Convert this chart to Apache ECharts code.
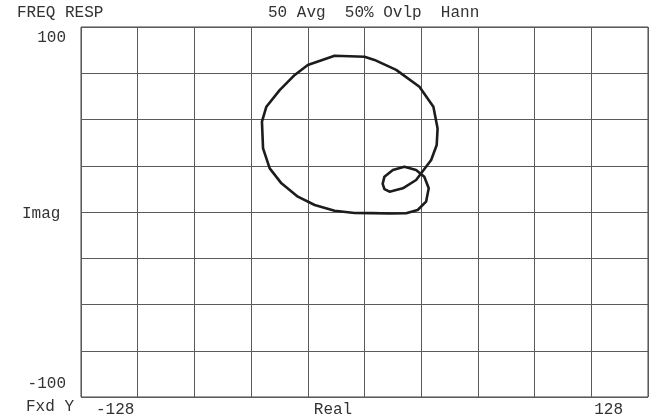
<!DOCTYPE html>
<html>
<head>
<meta charset="utf-8">
<script src="https://cdn.jsdelivr.net/npm/echarts@6/dist/echarts.min.js"></script>
<style>
  html, body { margin: 0; padding: 0; background: #ffffff; }
  #chart { width: 650px; height: 420px; }
</style>
</head>
<body>
<div id="chart"></div>
<script>
// Nyquist trace of the measured frequency response (real vs. imaginary part)
const realPart = [
  0.0, -13.5, -25.6, -31.5, -38.3, -44.3, -46.3, -45.8, -42.8, -37.5,
  -30.1, -22.5, -13.5, -4.5, 3.7, 11.3, 18.8, 24.0, 27.8, 29.0,
  27.0, 23.3, 18.0, 12.8, 9.0, 8.2, 9.0, 11.3, 17.3, 23.3,
  30.1, 32.6, 33.0, 31.1, 24.8, 14.3, 4.5, 0.0
];
const imagPart = [
  83.9, 84.5, 79.5, 74.1, 65.9, 56.9, 48.8, 34.4, 23.6, 15.5,
  8.3, 3.8, 0.7, -0.5, -0.6, -0.8, -0.7, 1.1, 5.6, 12.8,
  19.1, 22.7, 24.5, 22.7, 19.1, 15.2, 12.4, 11.0, 12.8, 17.3,
  28.1, 36.2, 45.2, 56.9, 67.7, 76.8, 82.2, 83.9
];

// Axis extents and the end labels printed beside the graticule
const realRange = [-128, 128];
const imagRange = [-100, 100];
const realTickLabels = ['-128', '128'];
const imagTickLabels = ['100', '-100'];
const realAxisName = 'Real';
const imagAxisName = 'Imag';
const headerTitle = 'FREQ RESP';
const headerSetup = '50 Avg  50% Ovlp  Hann';
const scaleNote = 'Fxd Y';

const points = realPart.map((re, i) => [re, imagPart[i]]);

const FONT = '16px "Liberation Mono", "DejaVu Sans Mono", monospace';
const TEXT_COLOR = '#333333';
const GRID_COLOR = '#5a5a5a';

function label(text, x, y, align) {
  return {
    type: 'text',
    silent: true,
    style: {
      text: text,
      x: x,
      y: y,
      font: FONT,
      fill: TEXT_COLOR,
      textAlign: align,
      textVerticalAlign: 'middle'
    }
  };
}

const chart = echarts.init(document.getElementById('chart'), null, { renderer: 'canvas' });

chart.setOption({
  animation: false,
  backgroundColor: '#ffffff',
  grid: {
    left: 81,
    top: 27,
    width: 567,
    height: 370,
    show: true,
    borderColor: '#444444',
    borderWidth: 1,
    containLabel: false
  },
  xAxis: {
    type: 'value',
    min: realRange[0],
    max: realRange[1],
    interval: (realRange[1] - realRange[0]) / 10,
    axisLine: { show: false },
    axisTick: { show: false },
    axisLabel: { show: false },
    splitLine: { show: true, lineStyle: { color: GRID_COLOR, width: 1 } }
  },
  yAxis: {
    type: 'value',
    min: imagRange[0],
    max: imagRange[1],
    interval: (imagRange[1] - imagRange[0]) / 8,
    axisLine: { show: false },
    axisTick: { show: false },
    axisLabel: { show: false },
    splitLine: { show: true, lineStyle: { color: GRID_COLOR, width: 1 } }
  },
  series: [{
    type: 'line',
    data: points,
    showSymbol: false,
    smooth: false,
    clip: false,
    lineStyle: { color: '#1c1c1c', width: 2.6, join: 'round', cap: 'round' }
  }],
  graphic: [
    label(headerTitle, 17, 13, 'left'),
    label(headerSetup, 268, 13, 'left'),
    label(imagTickLabels[0], 66, 38, 'right'),
    label(imagAxisName, 22, 214, 'left'),
    label(imagTickLabels[1], 66, 384, 'right'),
    label(scaleNote, 26, 407, 'left'),
    label(realTickLabels[0], 96, 410, 'left'),
    label(realAxisName, 333, 410, 'center'),
    label(realTickLabels[1], 623, 410, 'right')
  ]
});
</script>
</body>
</html>
